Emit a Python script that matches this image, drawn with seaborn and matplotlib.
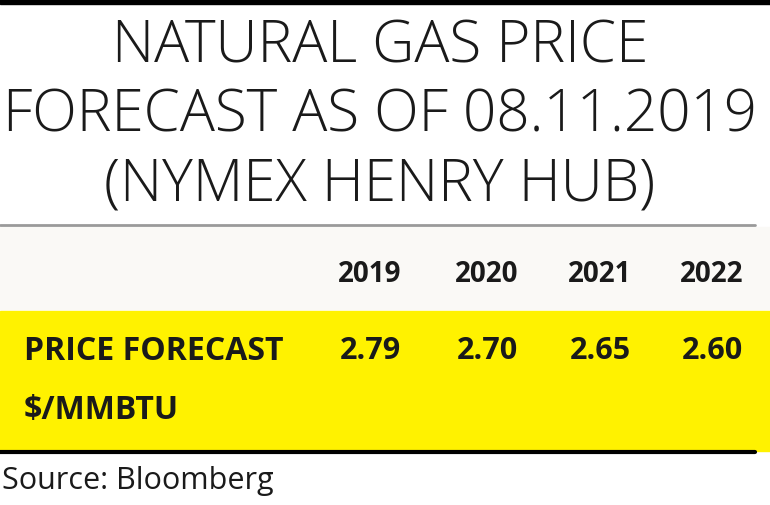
import matplotlib
matplotlib.use("Agg")
import matplotlib.pyplot as plt
import seaborn as sns

sns.set_theme(style="white")
plt.rcParams['font.family'] = ['Open Sans', 'DejaVu Sans']

title_lines = ["NATURAL GAS PRICE", "FORECAST AS OF 08.11.2019", "(NYMEX HENRY HUB)"]
years = ["2019", "2020", "2021", "2022"]
prices = [2.79, 2.70, 2.65, 2.60]
row_label = ["PRICE FORECAST", "$/MMBTU"]
source = "Source: Bloomberg"

fig = plt.figure(figsize=(7.7, 5.06), dpi=100)
ax = fig.add_axes([0, 0, 1, 1])
ax.set_xlim(0, 770)
ax.set_ylim(506, 0)
ax.axis("off")

# rules and bands
ax.axhspan(0, 5, color="black")
ax.axhspan(228, 310, color="#faf9f6")
ax.plot([0, 755], [226, 226], color="#9a9a9a", lw=2)
ax.axhspan(312, 452, color="#fff200")
ax.plot([0, 755], [453, 453], color="black", lw=3)

for i, line in enumerate(title_lines):
    ax.text(380, 47 + i * 69, line, ha="center", va="center",
            fontsize=42, fontweight="light", color="#1a1a1a")

xs = [370, 487, 600, 712]
for x, y in zip(xs, years):
    ax.text(x, 275, y, ha="center", va="center", fontsize=20,
            fontweight="bold", color="#1a1a1a")
for x, p in zip(xs, prices):
    ax.text(x, 351, f"{p:.2f}", ha="center", va="center", fontsize=22,
            fontweight="bold", color="#1a1a1a")

ax.text(24, 351, row_label[0], ha="left", va="center", fontsize=23,
        fontweight="bold", color="#1a1a1a")
ax.text(24, 411, row_label[1], ha="left", va="center", fontsize=23,
        fontweight="bold", color="#1a1a1a")

ax.text(2, 481, source, ha="left", va="center", fontsize=22, color="#1a1a1a")

fig.savefig("out.png", dpi=100)
